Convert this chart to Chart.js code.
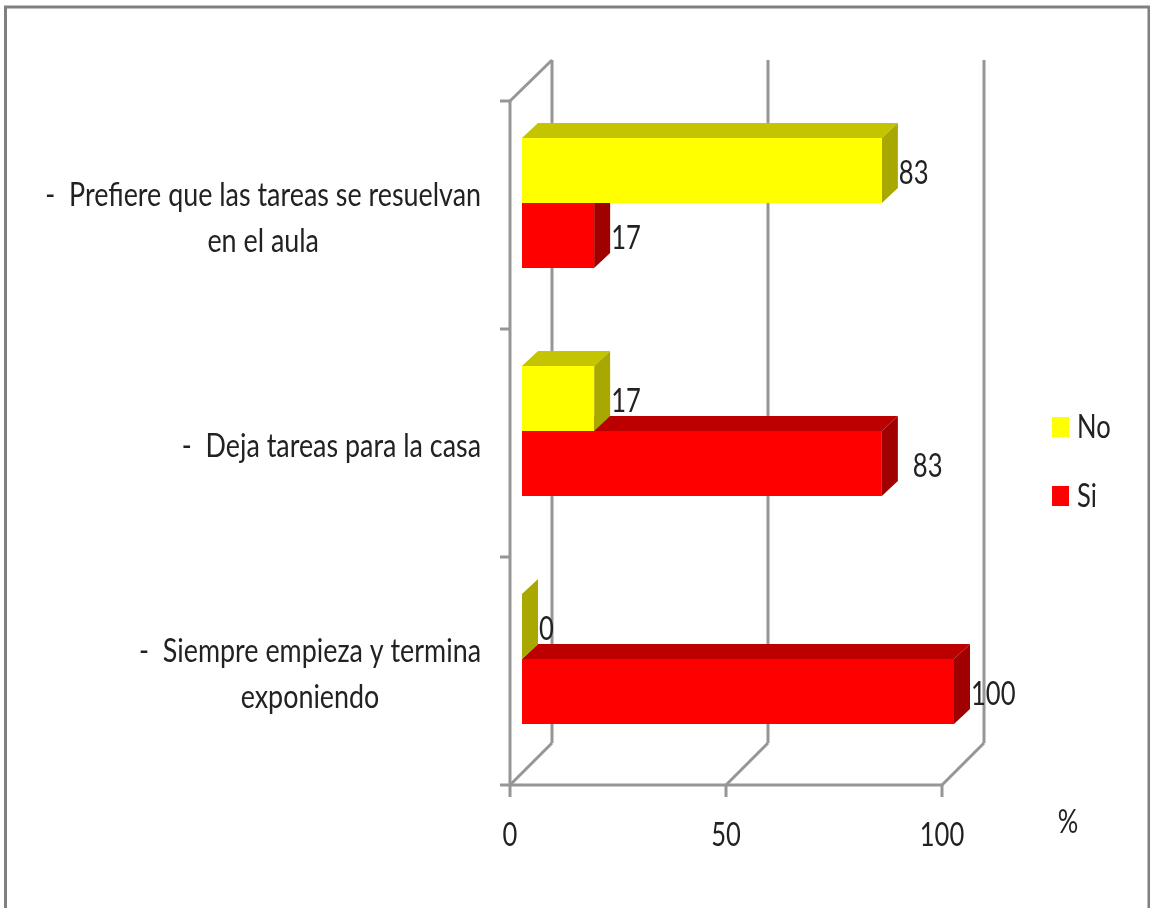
<!DOCTYPE html>
<html>
<head>
<meta charset="utf-8">
<title>Chart</title>
<script src="https://cdn.jsdelivr.net/npm/chart.js@4"></script>
<style>
  html, body { margin: 0; padding: 0; background: #fff; overflow: hidden; }
  canvas { display: block; }
</style>
</head>
<body>
<canvas id="chart" width="1150" height="908"></canvas>
<script>
const categories = [
  ["-  Prefiere que las tareas se resuelvan", "en el aula"],
  ["-  Deja tareas para la casa"],
  ["-  Siempre empieza y termina", "exponiendo"]
];
const seriesNames = ["No", "Si"];
const noValues = [83.3, 16.7, 0];
const siValues = [16.7, 83.3, 100];
const xTicks = [0, 50, 100];

const FONT = 'Lato, "Liberation Sans", sans-serif';
const SQUEEZE = 0.8;      // the original picture was stretched vertically
const SQUEEZE_CAT = 0.84;
const TEXT = "#222";
const GRID = "#969696";
const WALL = 42;          // depth of the 3d walls
const SHIFT = 12;         // bars sit inside the box
const BAR_DEPTH = 16;

const faces = [
  { front: "#ffff00", top: "#c4c400", side: "#a8a800" },
  { front: "#ff0000", top: "#bc0000", side: "#a00000" }
];

function line(ctx, x1, y1, x2, y2) {
  ctx.beginPath();
  ctx.moveTo(x1, y1);
  ctx.lineTo(x2, y2);
  ctx.stroke();
}

function poly(ctx, color, pts) {
  ctx.fillStyle = color;
  ctx.beginPath();
  pts.forEach((p, i) => i ? ctx.lineTo(p[0], p[1]) : ctx.moveTo(p[0], p[1]));
  ctx.closePath();
  ctx.fill();
}

function squeezed(ctx, s, x, y, align, sx = SQUEEZE) {
  ctx.save();
  ctx.translate(x, y);
  ctx.scale(sx, 1);
  ctx.textAlign = align;
  ctx.fillText(s, 0, 0);
  ctx.restore();
}

// frame, walls and floor of the 3d box
const box3d = {
  id: "box3d",
  beforeDatasetsDraw(chart) {
    const { ctx, chartArea: a, scales: { x } } = chart;
    ctx.save();
    ctx.strokeStyle = "#808080";
    ctx.lineWidth = 3;
    ctx.beginPath();
    ctx.moveTo(5.5, 908);
    ctx.lineTo(5.5, 7);
    ctx.lineTo(1149, 7);
    ctx.lineTo(1149, 908);
    ctx.stroke();

    ctx.strokeStyle = GRID;
    ctx.lineWidth = 3;
    xTicks.forEach(v => {
      const px = x.getPixelForValue(v);
      line(ctx, px + WALL, a.top - WALL + 1, px + WALL, a.bottom - WALL);
      line(ctx, px + WALL, a.bottom - WALL, px, a.bottom);
      line(ctx, px, a.bottom, px, a.bottom + 12);
    });
    line(ctx, a.left, a.top, a.left, a.bottom);
    line(ctx, a.left, a.top, a.left + WALL, a.top - WALL + 1);
    line(ctx, a.left - 10, a.bottom, a.right, a.bottom);
    const step = (a.bottom - a.top) / categories.length;
    for (let i = 0; i < categories.length; i++) {
      line(ctx, a.left - 10, a.top + step * i, a.left, a.top + step * i);
    }
    ctx.restore();
  },
  beforeDatasetDraw(chart, args) {
    const { ctx } = chart;
    const c = faces[args.index];
    ctx.save();
    ctx.translate(SHIFT, -SHIFT);
    args.meta.data.forEach(bar => {
      const t = bar.y - bar.height / 2;
      const b = bar.y + bar.height / 2;
      const l = bar.base;
      const r = bar.x;
      const d = BAR_DEPTH;
      poly(ctx, c.top, [[l, t], [l + d, t - d + 1], [r + d, t - d + 1], [r, t]]);
      poly(ctx, c.side, [[r, t], [r + d, t - d + 1], [r + d, b - d + 1], [r, b]]);
    });
  },
  afterDatasetDraw(chart) {
    chart.ctx.restore();
  }
};

// value labels, axis labels, legend and unit
const texts = {
  id: "texts",
  afterDraw(chart) {
    const { ctx, scales: { x, y } } = chart;
    ctx.save();
    ctx.fillStyle = TEXT;
    ctx.font = "32px " + FONT;
    ctx.textBaseline = "middle";

    chart.data.datasets.forEach((ds, i) => {
      chart.getDatasetMeta(i).data.forEach((bar, j) => {
        const nudge = (i === 1 && j === 1) ? 14 : 0;
        squeezed(ctx, String(Math.round(ds.data[j])), bar.x + SHIFT + BAR_DEPTH + 1 + nudge, bar.y - SHIFT + 3, "left");
      });
    });

    xTicks.forEach(v => {
      squeezed(ctx, String(v), x.getPixelForValue(v), 836, "center");
    });

    categories.forEach((lines, i) => {
      const w = Math.max(...lines.map(s => ctx.measureText(s).width)) * SQUEEZE_CAT;
      const cy = y.getPixelForTick(i) + 4;
      lines.forEach((s, k) => {
        squeezed(ctx, s, 481 - w / 2, cy + (k - (lines.length - 1) / 2) * 46, "center", SQUEEZE_CAT);
      });
    });

    seriesNames.forEach((name, i) => {
      const cy = 427 + i * 69;
      ctx.fillStyle = faces[i].front;
      ctx.fillRect(1052, cy - 10, 17, 20);
      ctx.fillStyle = TEXT;
      squeezed(ctx, name, 1077, cy + 1, "left");
    });

    squeezed(ctx, "%", 1068, 823, "center");
    ctx.restore();
  }
};

new Chart(document.getElementById("chart"), {
  type: "bar",
  data: {
    labels: categories,
    datasets: [
      { label: seriesNames[0], data: noValues, backgroundColor: faces[0].front, clip: false },
      { label: seriesNames[1], data: siValues, backgroundColor: faces[1].front, clip: false }
    ]
  },
  options: {
    indexAxis: "y",
    responsive: false,
    animation: false,
    categoryPercentage: 0.57,
    barPercentage: 1,
    layout: { padding: { left: 510, top: 101, right: 208, bottom: 0 } },
    plugins: { legend: { display: false }, tooltip: { enabled: false } },
    scales: {
      x: {
        min: 0,
        max: 100,
        afterBuildTicks(axis) { axis.ticks = xTicks.map(value => ({ value })); },
        afterFit(axis) { axis.height = 123; },
        grid: { display: false },
        border: { display: false },
        ticks: { display: false }
      },
      y: {
        afterFit(axis) { axis.width = 0; },
        grid: { display: false },
        border: { display: false },
        ticks: { display: false }
      }
    }
  },
  plugins: [box3d, texts]
});
</script>
</body>
</html>
